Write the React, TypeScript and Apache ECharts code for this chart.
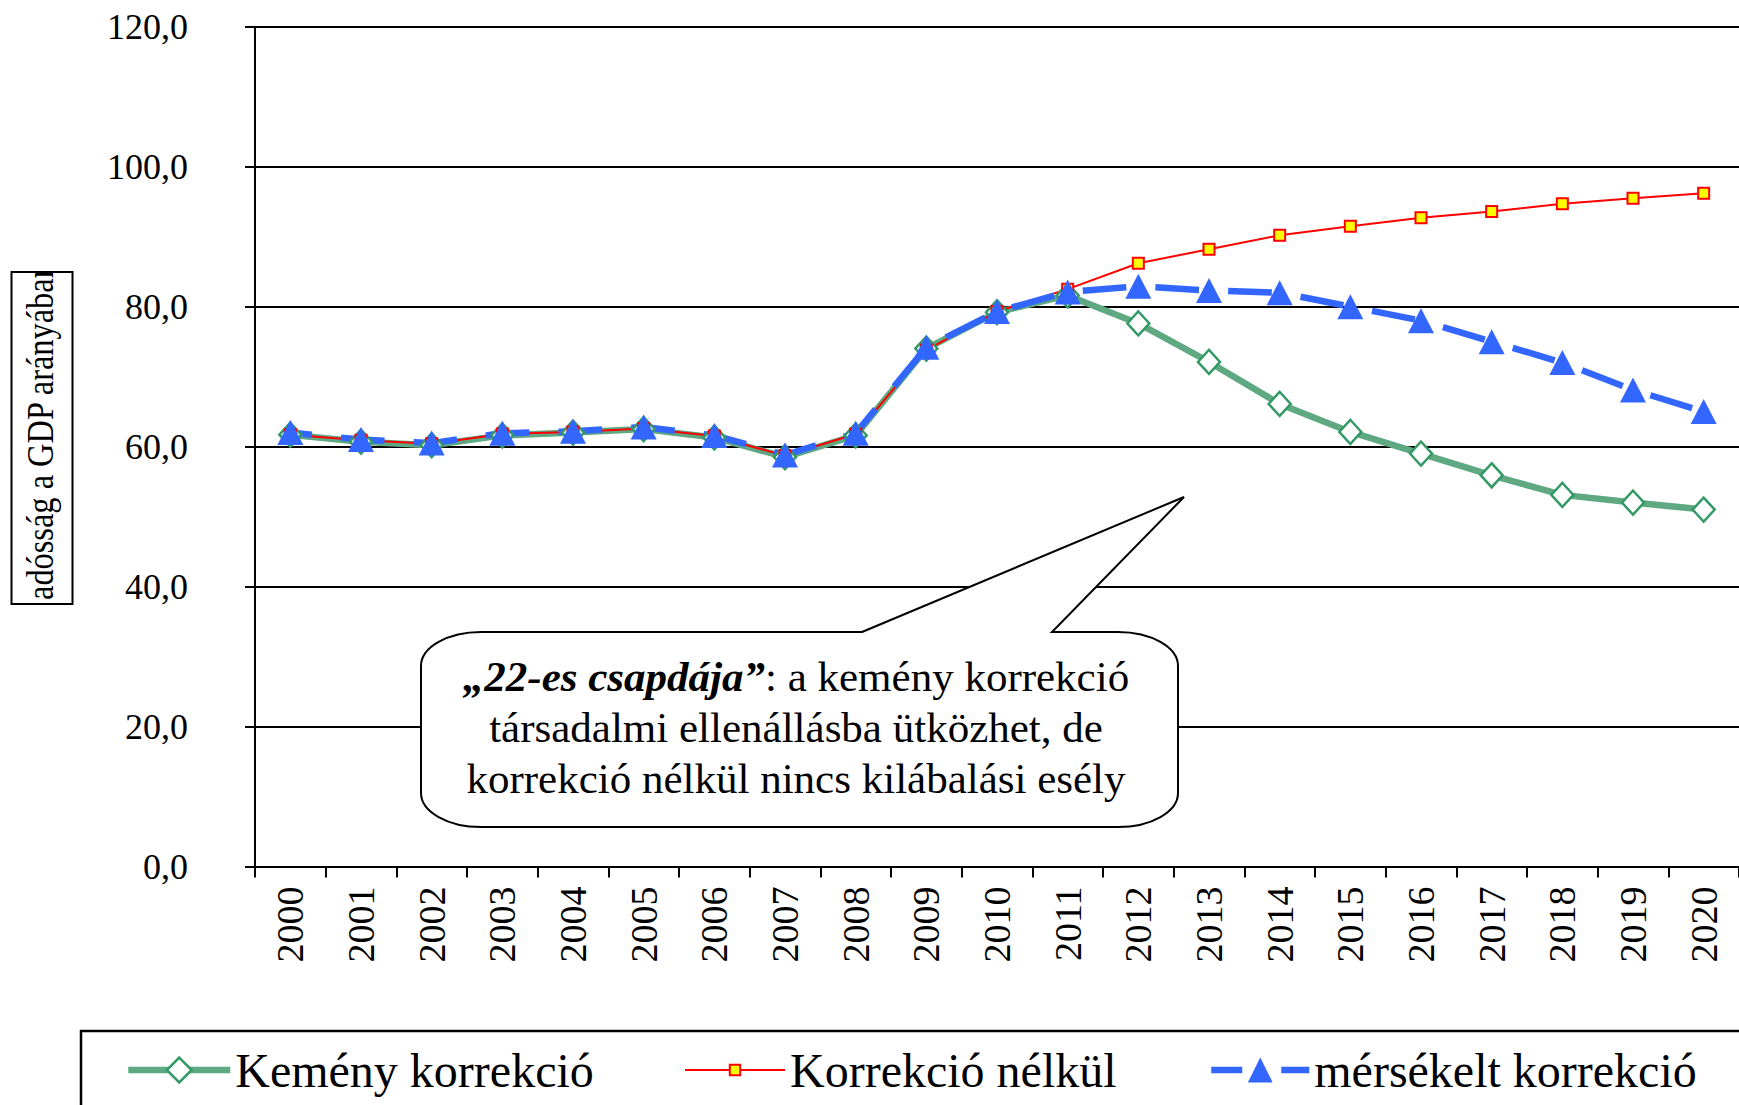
import React, { useEffect, useRef } from 'react';
import * as echarts from 'echarts';

const years = ['2000', '2001', '2002', '2003', '2004', '2005', '2006', '2007', '2008', '2009', '2010',
  '2011', '2012', '2013', '2014', '2015', '2016', '2017', '2018', '2019', '2020'];

const kemenyKorrekcio = [61.7, 60.7, 60.2, 61.6, 62.0, 62.5, 61.3, 58.5, 61.6, 74.0, 79.2,
  81.6, 77.6, 72.1, 66.1, 62.1, 59.0, 55.9, 53.1, 52.0, 51.0];
const korrekcioNelkul = [61.7, 60.9, 60.4, 61.8, 62.1, 62.6, 61.5, 58.7, 61.8, 73.8, 79.3,
  82.5, 86.2, 88.2, 90.2, 91.5, 92.7, 93.6, 94.7, 95.5, 96.2];
const mersekeltKorrekcio = [62.0, 61.0, 60.5, 61.9, 62.2, 62.8, 61.6, 58.8, 61.9, 74.2, 79.3,
  82.1, 82.9, 82.3, 82.0, 80.0, 78.0, 75.0, 72.0, 68.1, 65.0];

const seriesNames = ['Kemény korrekció', 'Korrekció nélkül', 'mérsékelt korrekció'];
const yAxisTitle = 'adósság a GDP arányában';
const calloutBold = '„22-es csapdája”';
const calloutLines = [': a kemény korrekció', 'társadalmi ellenállásba ütközhet, de', 'korrekció nélkül nincs kilábalási esély'];

const SERIF = "'Times New Roman', 'Liberation Serif', serif";
const GREEN_LINE = '#5ea882';

function calloutPathData() {
  const L = 421, R = 1178, T = 632, B = 827, rx = 60, ry = 34, k = 0.5523;
  return `M 862 ${T} L 1184 497 L 1052 ${T} L ${R - rx} ${T} ` +
    `C ${R - rx + k * rx} ${T} ${R} ${T + ry - k * ry} ${R} ${T + ry} ` +
    `L ${R} ${B - ry} C ${R} ${B - ry + k * ry} ${R - rx + k * rx} ${B} ${R - rx} ${B} ` +
    `L ${L + rx} ${B} C ${L + rx - k * rx} ${B} ${L} ${B - ry + k * ry} ${L} ${B - ry} ` +
    `L ${L} ${T + ry} C ${L} ${T + ry - k * ry} ${L + rx - k * rx} ${T} ${L + rx} ${T} Z`;
}

export default function App() {
  const ref = useRef<HTMLDivElement>(null);

  useEffect(() => {
    if (!ref.current) return;
    echarts.graphic.registerShape('callout', echarts.graphic.extendPath(calloutPathData(), {}) as any);
    const chart = echarts.init(ref.current, null, { renderer: 'svg' });

    const legendBase = {
      orient: 'horizontal',
      top: 1046,
      padding: 0,
      selectedMode: false,
      textStyle: { fontSize: 48, fontFamily: SERIF, color: '#000' },
    };

    const option: any = {
      animation: false,
      backgroundColor: '#ffffff',
      grid: { left: 255, right: -16, top: 26.7, bottom: 238.5, containLabel: false },
      legend: [
        {
          ...legendBase, left: 125, itemWidth: 102, itemHeight: 31, data: [seriesNames[0]],
          lineStyle: { color: GREEN_LINE, width: 6.5, type: 'solid', dashOffset: 0 },
          itemStyle: { color: '#ffffff', borderColor: '#339966', borderWidth: 2.5 },
        },
        {
          ...legendBase, left: 684, itemWidth: 100, itemHeight: 13, data: [seriesNames[1]],
          lineStyle: { color: '#FF0000', width: 2, type: 'solid', dashOffset: 0 },
          itemStyle: { color: '#FFFF00', borderColor: '#FF0000', borderWidth: 2 },
        },
        {
          ...legendBase, left: 1208, itemWidth: 98, itemHeight: 31, data: [seriesNames[2]],
          lineStyle: { color: '#3366FF', width: 6.5, type: [31, 39], dashOffset: 0 },
          itemStyle: { color: '#3366FF', borderWidth: 0 },
        },
      ],
      xAxis: {
        type: 'category',
        data: years,
        boundaryGap: true,
        axisLine: { show: true, lineStyle: { color: '#000', width: 2 } },
        axisTick: { show: true, length: 11, interval: 0, alignWithLabel: false, lineStyle: { color: '#000', width: 2 } },
        axisLabel: { rotate: 90, margin: 20, interval: 0, fontSize: 38, fontFamily: SERIF, color: '#000' },
        splitLine: { show: false },
      },
      yAxis: {
        type: 'value',
        min: 0,
        max: 120,
        interval: 20,
        axisLine: { show: true, lineStyle: { color: '#000', width: 2 } },
        axisTick: { show: true, length: 10, lineStyle: { color: '#000', width: 2 } },
        axisLabel: {
          margin: 67, fontSize: 36, fontFamily: SERIF, color: '#000',
          formatter: (v: number) => v.toFixed(1).replace('.', ','),
        },
        splitLine: { show: true, lineStyle: { color: '#000', width: 2 } },
      },
      series: [
        {
          name: seriesNames[0], type: 'line', data: kemenyKorrekcio,
          symbol: 'diamond', symbolSize: [22, 24],
          lineStyle: { color: GREEN_LINE, width: 6.5 },
          itemStyle: { color: '#ffffff', borderColor: '#339966', borderWidth: 2.5 },
          emphasis: { disabled: true },
        },
        {
          name: seriesNames[1], type: 'line', data: korrekcioNelkul,
          symbol: 'rect', symbolSize: 11,
          lineStyle: { color: '#FF0000', width: 2 },
          itemStyle: { color: '#FFFF00', borderColor: '#FF0000', borderWidth: 2 },
          emphasis: { disabled: true },
        },
        {
          name: seriesNames[2], type: 'line', data: mersekeltKorrekcio,
          symbol: 'triangle', symbolSize: [26, 25],
          lineStyle: { color: '#3366FF', width: 6.5, type: [43, 30], dashOffset: 0 },
          itemStyle: { color: '#3366FF' },
          emphasis: { disabled: true },
        },
      ],
      graphic: [
        {
          type: 'callout', x: 0, y: 0, z: 100,
          style: { fill: '#ffffff', stroke: '#000000', lineWidth: 2 },
        },
        {
          type: 'text', x: 796, y: 727, z: 101,
          style: {
            text: `{b|${calloutBold}}${calloutLines[0]}\n${calloutLines[1]}\n${calloutLines[2]}`,
            fontSize: 43, fontFamily: SERIF, fill: '#000', align: 'center', verticalAlign: 'middle',
            lineHeight: 51,
            rich: { b: { fontSize: 43, fontFamily: SERIF, fontWeight: 'bold', fontStyle: 'italic', lineHeight: 51, fill: '#000' } },
          },
        },
        {
          type: 'text', x: 41, y: 600, rotation: Math.PI / 2, scaleY: 1.16, z: 100,
          style: { text: yAxisTitle, fontSize: 32.4, fontFamily: SERIF, fill: '#000', align: 'left', verticalAlign: 'middle' },
        },
        {
          type: 'rect', z: 101, shape: { x: 8, y: 200, width: 68, height: 71 },
          style: { fill: '#ffffff' },
        },
        {
          type: 'rect', z: 102, shape: { x: 11.5, y: 272, width: 61, height: 332 },
          style: { fill: 'none', stroke: '#000000', lineWidth: 2 },
        },
        {
          type: 'rect', z: 102, shape: { x: 81, y: 1031, width: 1700, height: 200 },
          style: { fill: 'none', stroke: '#000000', lineWidth: 2.5 },
        },
      ],
    };

    chart.setOption(option);

    // align the dash pattern of the moderate-correction line with its visible (2012+) part
    const pts = mersekeltKorrekcio.map((v, i) => chart.convertToPixel({ gridIndex: 0 }, [i, v]) as number[]);
    let cum = 0;
    const cumLen: number[] = [0];
    for (let i = 1; i < pts.length; i++) {
      cum += Math.hypot(pts[i][0] - pts[i - 1][0], pts[i][1] - pts[i - 1][1]);
      cumLen.push(cum);
    }
    const start = 12;
    const period = (cumLen[pts.length - 1] - cumLen[start]) / (pts.length - 1 - start);
    const dash = period * 0.6;
    const s0 = cumLen[start] + 17;
    const offset = ((period - (s0 % period)) % period + period) % period;
    chart.setOption({
      series: [{}, {}, { lineStyle: { type: [dash, period - dash], dashOffset: offset } }],
    });

    return () => chart.dispose();
  }, []);

  return (
    <div
      ref={ref}
      style={{ position: 'fixed', left: 0, top: 0, width: 1739, height: 1105, overflow: 'hidden', background: '#fff' }}
    />
  );
}
